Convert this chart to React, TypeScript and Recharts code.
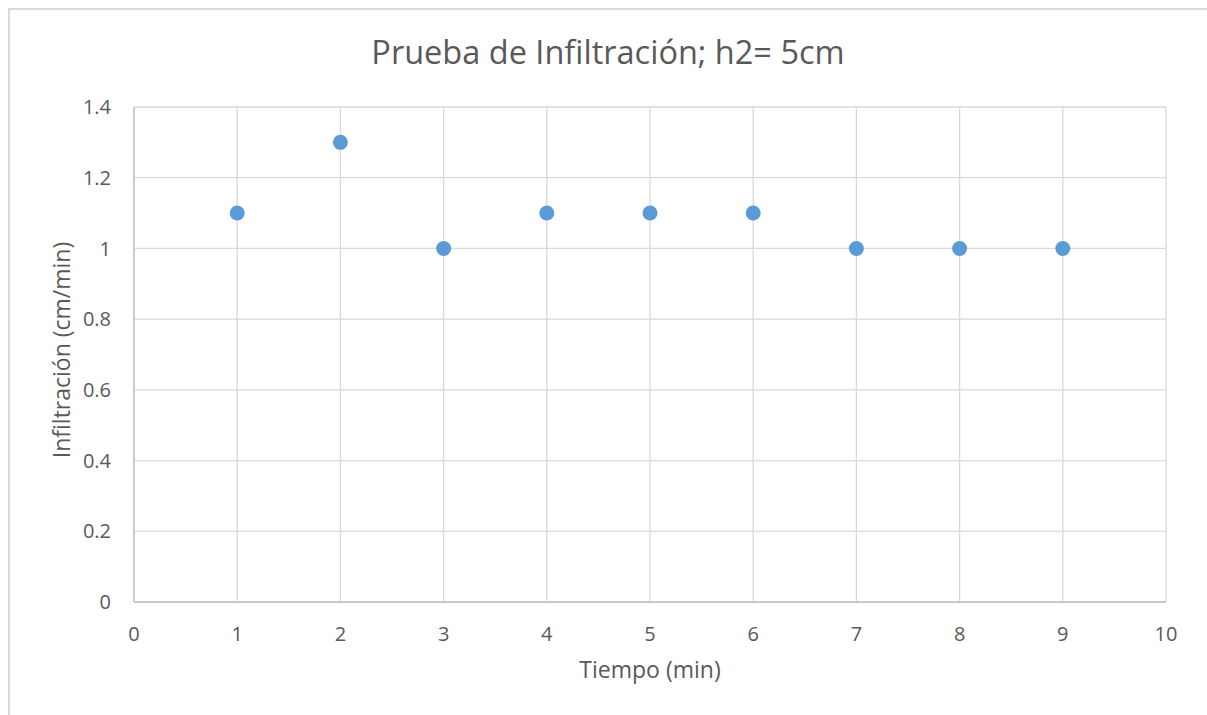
import React from 'react'
import { ScatterChart, Scatter, XAxis, YAxis, CartesianGrid } from 'recharts'

// Prueba de infiltración, h2 = 5 cm
const tiempo = [1, 2, 3, 4, 5, 6, 7, 8, 9]
const infiltracion = [1.1, 1.3, 1.0, 1.1, 1.1, 1.1, 1.0, 1.0, 1.0]
const xTicks = [0, 1, 2, 3, 4, 5, 6, 7, 8, 9, 10]
const yTicks = [0, 0.2, 0.4, 0.6, 0.8, 1, 1.2, 1.4]

const titulo = 'Prueba de Infiltración; h2= 5cm'
const tituloX = 'Tiempo (min)'
const tituloY = 'Infiltración (cm/min)'

const font = '"Open Sans", "Segoe UI", sans-serif'
const textColor = '#595959'

const Punto = (props: any) => <circle cx={props.cx} cy={props.cy} r={7.5} fill="#5b9bd5" />

const App: React.FC = () => {
  const data = tiempo.map((t, i) => ({ x: t, y: infiltracion[i] }))

  return (
    <div style={{ position: 'fixed', left: 8, top: 8, width: 1199, height: 707, overflow: 'hidden', background: '#fff', fontFamily: font }}>
      <div style={{ position: 'absolute', left: 0, top: 0, width: 1400, height: 900, borderLeft: '2px solid #d9d9d9', borderTop: '2px solid #d9d9d9' }} />
      <ScatterChart width={1199} height={707} margin={{ top: 99, right: 41, bottom: 83, left: 66 }}>
        <CartesianGrid stroke="#d9d9d9" strokeWidth={1.3} horizontalValues={yTicks} verticalValues={xTicks} />
        <XAxis
          type="number"
          dataKey="x"
          domain={[0, 10]}
          ticks={xTicks}
          height={30}
          tickSize={0}
          tickMargin={25}
          tickLine={false}
          axisLine={{ stroke: '#bfbfbf', strokeWidth: 1.3 }}
          tick={{ fill: textColor, fontSize: 20, fontFamily: font }}
        />
        <YAxis
          type="number"
          dataKey="y"
          domain={[0, 1.4]}
          ticks={yTicks}
          width={60}
          tickSize={0}
          tickMargin={23}
          tickLine={false}
          axisLine={{ stroke: '#bfbfbf', strokeWidth: 1.3 }}
          tick={{ fill: textColor, fontSize: 20, fontFamily: font }}
        />
        <Scatter data={data} fill="#5b9bd5" shape={Punto} isAnimationActive={false} />
      </ScatterChart>
      <svg width={1199} height={707} style={{ position: 'absolute', left: 0, top: 0, pointerEvents: 'none' }}>
        <text x={600} y={56} textAnchor="middle" fill={textColor} fontSize={32.5} fontFamily={font}>{titulo}</text>
        <text x={642} y={670} textAnchor="middle" fill={textColor} fontSize={23} fontFamily={font}>{tituloX}</text>
        <text x={62} y={342} textAnchor="middle" fill={textColor} fontSize={23} fontFamily={font} transform="rotate(-90 62 342)">{tituloY}</text>
      </svg>
    </div>
  )
}

export default App
